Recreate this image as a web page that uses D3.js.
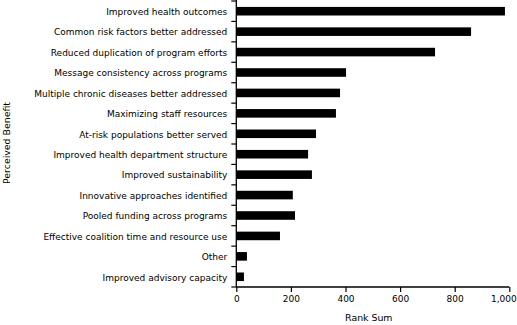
<!DOCTYPE html>
<html><head><meta charset="utf-8">
<script src="https://cdn.jsdelivr.net/npm/d3@7/dist/d3.min.js"></script>
<style>body{margin:0;background:#fff}svg{display:block}text{font-family:"DejaVu Sans",Verdana,sans-serif;fill:#000}</style>
</head><body><svg id="c" width="517" height="325"></svg>
<script>
const categories = ["Improved health outcomes","Common risk factors better addressed","Reduced duplication of program efforts","Message consistency across programs","Multiple chronic diseases better addressed","Maximizing staff resources","At-risk populations better served","Improved health department structure","Improved sustainability","Innovative approaches identified","Pooled funding across programs","Effective coalition time and resource use","Other","Improved advisory capacity"];
const values = [984,860,728,402,380,365,292,263,277,207,215,160,39,28];
const xTicks = [0,200,400,600,800,1000];
const xTitle = "Rank Sum";
const yTitle = "Perceived Benefit";

const svg = d3.select("#c");
const x0 = 236.3, x1 = 509.3, yTop = 1, yBot = 287;
const x = d3.scaleLinear().domain([0,1000]).range([x0,x1]);
const y = d3.scaleBand().domain(categories).range([yTop,yBot]).paddingInner(0.58).paddingOuter(0.29);
const fs = "9px";

svg.append("g").selectAll("rect").data(categories).join("rect")
  .attr("x", x(0)).attr("y", d=>y(d)).attr("height", y.bandwidth())
  .attr("width", (d,i)=>x(values[i])-x(0)).attr("fill","#000");

// y axis
const step = y.step();
const g = svg.append("g");
g.append("line").attr("x1",x0).attr("x2",x0).attr("y1",0).attr("y2",yBot).attr("stroke","#000").attr("stroke-width",1.3);
d3.range(categories.length+1).forEach(k=>{
  const yy = yTop + k*step;
  g.append("line").attr("x1",x0-5).attr("x2",x0).attr("y1",yy).attr("y2",yy).attr("stroke","#000").attr("stroke-width",1.2);
});
g.selectAll("text.cat").data(categories).join("text").attr("class","cat")
  .attr("x", x0-9).attr("y", d=>y(d)+y.bandwidth()/2).attr("dy","0.42em")
  .attr("text-anchor","end").style("font-size",fs).text(d=>d);

// x axis
const xa = svg.append("g").attr("transform",`translate(0,${yBot})`)
  .call(d3.axisBottom(x).tickValues(xTicks).tickSize(5).tickPadding(4).tickFormat(d3.format(",")));
xa.select(".domain").attr("stroke-width",1.3).attr("d",`M${x0},0H${x1}`);
xa.selectAll("line").attr("stroke-width",1.2);
xa.selectAll("text").style("font-size",fs).style("font-family","DejaVu Sans");
xa.selectAll(".tick").filter(d=>d===1000).select("text").attr("text-anchor","end").attr("x",7);

svg.append("text").attr("x",(x0+x1)/2-4).attr("y",321).attr("text-anchor","middle").style("font-size","9.4px").text(xTitle);
svg.append("text").attr("transform","translate(10,143) rotate(-90)").attr("text-anchor","middle").style("font-size","9.4px").text(yTitle);
</script></body></html>
